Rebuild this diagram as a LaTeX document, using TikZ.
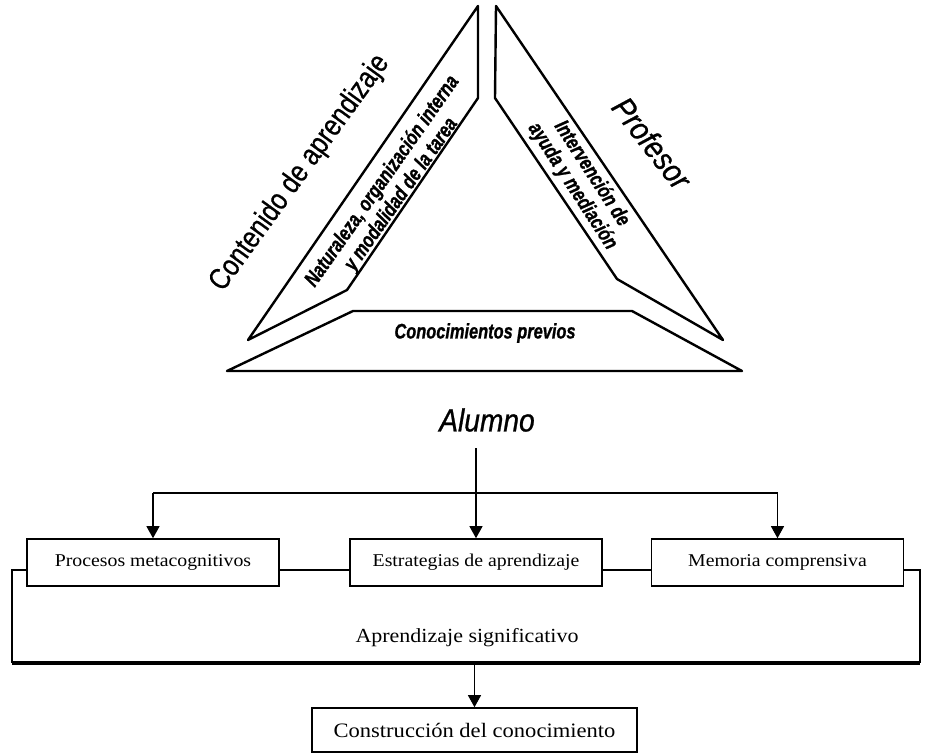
\documentclass[tikz,border=0pt]{standalone}
\usepackage{fontspec}
\setmainfont{Liberation Serif}
\newfontfamily\boxfont[FakeStretch=1.1]{Liberation Serif}
\newfontfamily\bigsans[FakeStretch=0.83, UprightFeatures={FakeBold=0.6}]{Liberation Sans}
\newfontfamily\itsans[FakeStretch=0.88, ItalicFeatures={FakeBold=0.8}]{Liberation Sans}
\newfontfamily\smallsans[FakeStretch=0.78, BoldItalicFeatures={FakeBold=1}]{Liberation Sans}
\usetikzlibrary{arrows.meta,calc}
\begin{document}
\begin{tikzpicture}[x=1pt,y=-1pt,
  band/.style={draw, line width=2.4pt, line join=round},
  boxnode/.style={draw, line width=1.6pt, minimum width=252pt, minimum height=47pt, inner sep=0pt, font=\boxfont\fontsize{18}{20}\selectfont},
  arr/.style={line width=1.1pt, -{Triangle[length=12pt,width=13pt]}},
  lnk/.style={line width=1.2pt},
  innertext/.style={font=\smallsans\bfseries\itshape\fontsize{21}{23}\selectfont, align=center, inner sep=0pt},
  bigtitle/.style={font=\bigsans\fontsize{30}{32}\selectfont, inner sep=0pt},
  ittitle/.style={font=\itsans\itshape\fontsize{32}{34}\selectfont, inner sep=0pt},
  serlabel/.style={font=\boxfont\fontsize{20}{22}\selectfont, inner sep=0pt}
]
\fill[white] (0,0) rectangle (926,755);
\useasboundingbox (0,0) rectangle (926,755);

% triangle bands
\draw[band] (478,6) -- (478,98) -- (347,290) -- (248,340) -- cycle;
\draw[band] (496,6) -- (495,98) -- (617,279) -- (723,340) -- cycle;
\draw[band] (227,371) -- (353,311) -- (632,311) -- (742,371) -- cycle;

% triangle texts
\node[bigtitle, rotate=54] (cont) at (300,173) {Contenido de aprendizaje};
\node[innertext, rotate=55] (nat) at (392,188) {Naturaleza, organización interna\\y modalidad de la tarea};
\node[ittitle, rotate=-52] (prof) at (652,143) {Profesor};
\node[innertext, rotate=-57] (interv) at (582,180) {Intervención de\\ayuda y mediación};
\node[innertext] (conoc) at (485,333) {Conocimientos previos};

% alumno
\node[ittitle] (alu) at (487,420) {Alumno};

% boxes
\node[boxnode] (pm) at (153,562.5) {Procesos metacognitivos};
\node[boxnode] (est) at (476,562.5) {Estrategias de aprendizaje};
\node[boxnode] (mc) at (777.5,562.5) {Memoria comprensiva};

\coordinate (astart) at (476,448);
\coordinate (bus) at (476,493);
\draw[arr] (astart) -- (est.north);
\draw[lnk] (pm.north |- bus) -- (mc.north |- bus);
\draw[arr] (pm.north |- bus) -- (pm.north);
\draw[arr] (mc.north |- bus) -- (mc.north);

\draw[lnk] ([yshift=-7.5pt]pm.east) -- ([yshift=-7.5pt]est.west);
\draw[lnk] ([yshift=-7.5pt]est.east) -- ([yshift=-7.5pt]mc.west);

% big bracket
\coordinate (brTR) at (920,570);
\coordinate (brBR) at (920,663);
\coordinate (brTL) at (12,570);
\coordinate (brBL) at (12,663);
\draw[line width=2pt] ([yshift=-7.5pt]mc.east) -- (brTR) -- (brBR);
\draw[line width=2pt] ([yshift=-7.5pt]pm.west) -- (brTL) -- (brBL);
\draw[line width=3.5pt] (brBL) -- (brBR);
\node[serlabel] (apr) at (467,638) {Aprendizaje significativo};

% bottom box
\node[boxnode, minimum width=325pt, minimum height=44pt, font=\boxfont\fontsize{20.5}{22}\selectfont] (cons) at (474.5,730) {Construcción del conocimiento};
\draw[arr] (cons.north |- brBL) -- (cons.north);
\end{tikzpicture}
\end{document}
